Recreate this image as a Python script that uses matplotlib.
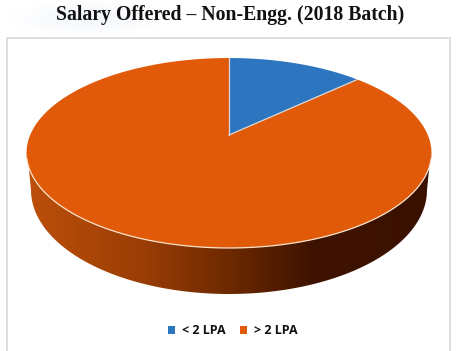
import numpy as np
import matplotlib
matplotlib.use('Agg')
import matplotlib.pyplot as plt
from matplotlib.colors import LinearSegmentedColormap
from matplotlib.patches import Polygon, Rectangle

title = 'Salary Offered \u2013 Non-Engg. (2018 Batch)'
labels = ['< 2 LPA', '> 2 LPA']
shares = [13, 87]
colors = ['#2e75c0', '#e05a0a']


# circle (u, v) -> picture, perspective of the pie top
def project(theta):
    u, v = np.sin(theta), np.cos(theta)
    d = 1 + 0.1895 * v
    return 229 + 198.8 * u / d, (135 - 66 * v) / d


fig = plt.figure(figsize=(4.74, 3.51), dpi=100)
ax = fig.add_axes([0, 0, 1, 1])
ax.axis('off')

# faint haze behind the title
xx, yy = np.meshgrid(np.linspace(-1, 1, 80), np.linspace(-1, 1, 40))
haze = np.clip(np.hypot(xx, yy), 0, 1)
haze_cmap = LinearSegmentedColormap.from_list('haze', ['#f2f6fc', '#ffffff'])
ax.imshow(haze, extent=(5, 175, 36, 0), cmap=haze_cmap, aspect='auto', zorder=0)

ax.add_patch(Rectangle((7.5, 37.5), 443, 320, fc='white', ec='#d9d9d9', lw=1.2, zorder=1))

# side of the pie, gradient clipped to the outline
t = np.linspace(np.pi / 2, 3 * np.pi / 2, 200)
low_x = 229 + 198 * np.sin(t)
low_y = 190 - 104 * np.cos(t)
side = Polygon(np.r_[[[27, 150]], np.c_[low_x, low_y][::-1], [[431, 150]]],
               closed=True, fc='none', ec='none', zorder=2)
ax.add_patch(side)
side_cmap = LinearSegmentedColormap.from_list(
    'side', [(0, '#bd500a'), (0.3, '#983c05'), (0.52, '#692700'), (0.7, '#3f1300'), (1, '#3a1000')])
im = ax.imshow(np.linspace(0, 1, 256).reshape(1, -1), extent=(26, 432, 300, 140), cmap=side_cmap,
               aspect='auto', zorder=2)
im.set_clip_path(side)

# top of the pie, wedges come from the shares
start = 0
handles = []
for share, color, label in zip(shares, colors, labels):
    a = np.linspace(start, start + share, 300) / sum(shares) * 2 * np.pi
    x, y = project(a)
    p = ax.fill(np.r_[229, x], np.r_[135, y], fc=color, ec='none', zorder=3, label=label)
    handles.append(p[0])
    ax.plot([229, x[0]], [135, y[0]], color='#d8d8d8', lw=0.9, zorder=4)
    start += share

# cream rim along the front edge
a = np.linspace(np.pi * 0.58, np.pi * 1.42, 200)
x, y = project(a)
ax.plot(x, y, color='#fbe3cc', lw=0.9, zorder=4)

ax.set_xlim(0, 474)
ax.set_ylim(351, 0)

fig.text(230 / 474, 1 - 15 / 351, title, ha='center', va='center', family='Liberation Serif',
         fontweight='bold', fontsize=14.2, color='#111111')

leg = ax.legend(handles=handles, loc='center', bbox_to_anchor=(233 / 474, 1 - 331 / 351), ncol=2,
                frameon=False, prop={'family': 'Open Sans', 'weight': 'bold', 'size': 9},
                handlelength=0.55, handleheight=0.55, handletextpad=0.6, columnspacing=1.1)
for h in leg.legend_handles:
    h.set_edgecolor('none')
for txt in leg.get_texts():
    txt.set_color('#101010')

fig.savefig('out.png', dpi=100)
